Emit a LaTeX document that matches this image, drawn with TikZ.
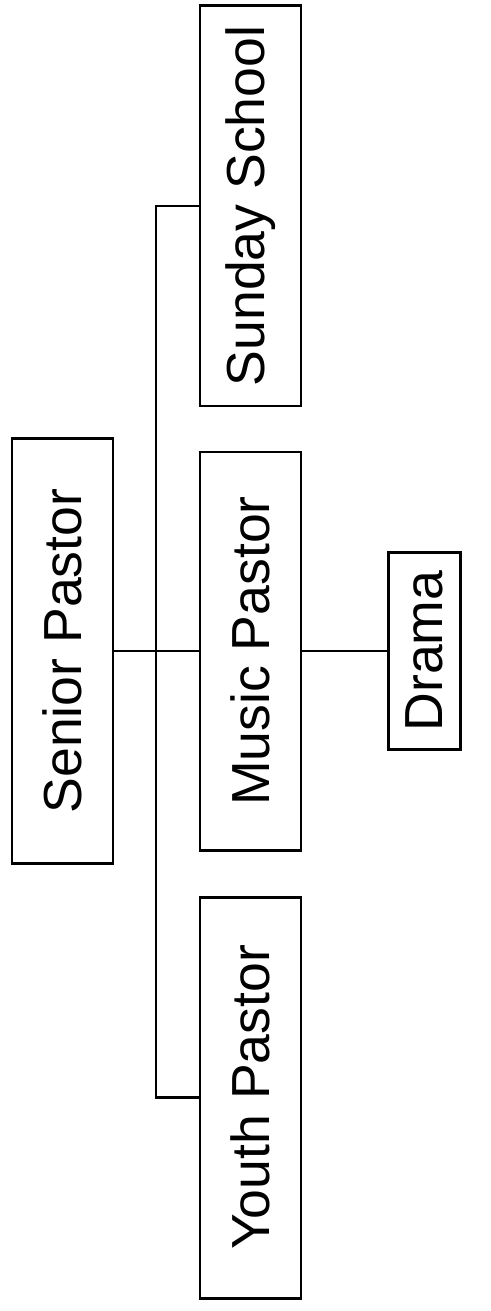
\documentclass[tikz,border=0pt]{standalone}
\usepackage{fontspec}
\setmainfont{Liberation Sans}
\usetikzlibrary{positioning, calc}

\begin{document}
\begin{tikzpicture}[
    role/.style={draw, line width=1.7pt, rotate=90, minimum height=2.02cm, inner sep=0pt, font=\fontsize{30.5}{36}\selectfont},
    link/.style={line width=1.7pt}
]
\useasboundingbox (0,0) rectangle (9.82,-26.22);

% Head
\node[role, minimum width=8.5cm] (senior) at (1.25,-13.02) {Senior Pastor};

% Staff
\node[role, minimum width=8.0cm] (sunday) at (5.01,-4.12) {Sunday School};
\node[role, minimum width=7.96cm] (music) at (5.01,-13.02) {Music Pastor};
\node[role, minimum width=8.02cm] (youth) at (5.01,-21.95) {Youth Pastor};

% Sub group
\node[role, minimum width=3.94cm, minimum height=1.44cm] (drama) at (8.48,-13.02) {Drama};

% Connectors
\coordinate (bus) at (3.12,0);
\draw[link] (senior.south) -- (music.north);
\draw[link] (sunday.north) -| (bus |- youth.north) -- (youth.north);
\draw[link] (music.south) -- (drama.north);

\end{tikzpicture}
\end{document}
